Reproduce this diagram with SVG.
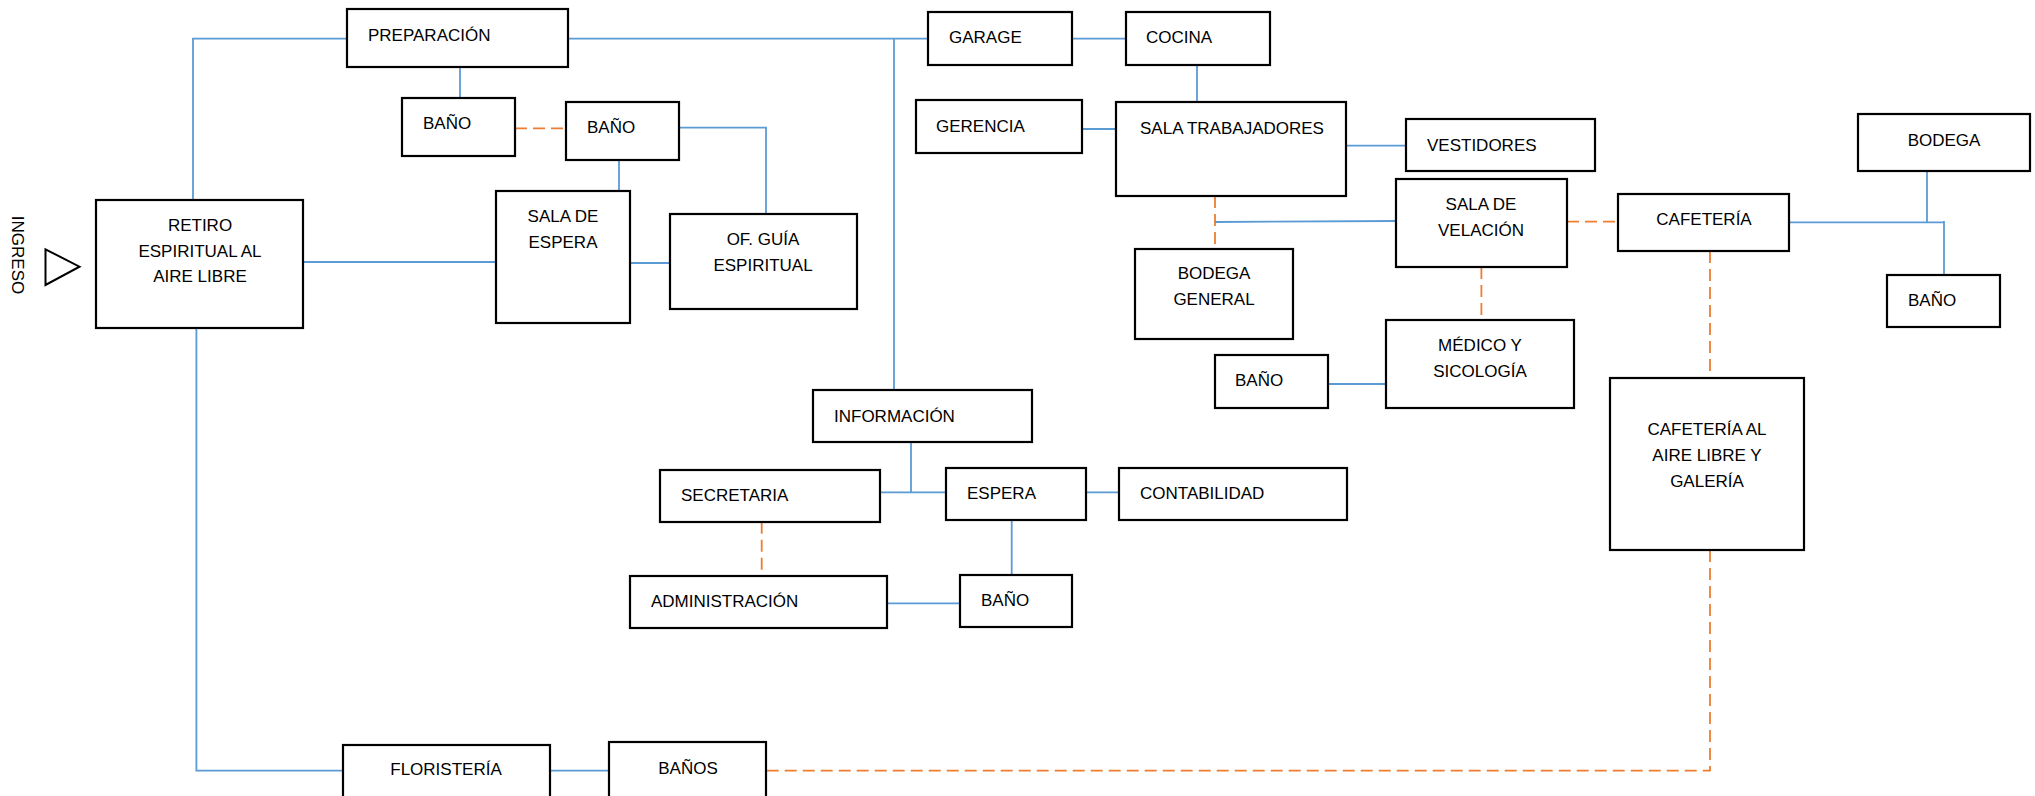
<svg xmlns="http://www.w3.org/2000/svg" width="2035" height="796" viewBox="0 0 2035 796">
<style>
.box{fill:#fff;stroke:#000;stroke-width:2.2}
.t{font-family:"Liberation Sans",Arial,sans-serif;font-size:17px;fill:#000}
.c{text-anchor:middle}
.bl{fill:none;stroke:#5B9BD5;stroke-width:1.8}
.or{fill:none;stroke:#ED7D31;stroke-width:1.8;stroke-dasharray:12 6}
</style>
<rect width="2035" height="796" fill="#fff"/>
<g id="connectors">
<polyline class="bl" points="347,38.7 193,38.7 193,200"/>
<polyline class="bl" points="568,38.7 928,38.7"/>
<polyline class="bl" points="894,38.7 894,390"/>
<polyline class="bl" points="1072,38.7 1126,38.7"/>
<polyline class="bl" points="1197,65 1197,102"/>
<polyline class="bl" points="460,67 460,98"/>
<polyline class="or" points="515,128.3 566,128.3"/>
<polyline class="bl" points="679,127.7 766,127.7 766,214"/>
<polyline class="bl" points="619,160 619,191"/>
<polyline class="bl" points="303,262 496,262"/>
<polyline class="bl" points="630,263 670,263"/>
<polyline class="bl" points="1082,129 1116,129"/>
<polyline class="bl" points="1346,145.7 1406,145.7"/>
<polyline class="or" points="1215,196 1215,249"/>
<polyline class="bl" points="1215,222 1396,221"/>
<polyline class="or" points="1567,221.7 1618,221.7"/>
<polyline class="bl" points="1789,222.3 1944,222.3"/>
<polyline class="bl" points="1927,171 1927,222.3"/>
<polyline class="bl" points="1944,221 1944,275"/>
<polyline class="or" points="1481.4,267 1481.4,320"/>
<polyline class="bl" points="1328,384 1386,384"/>
<polyline class="or" points="1710,251 1710,378"/>
<polyline class="or" points="1710,550 1710,770.7 766,770.7"/>
<polyline class="bl" points="196.4,328 196.4,770.7 343,770.7"/>
<polyline class="bl" points="550,770.7 609,770.7"/>
<polyline class="bl" points="911,442.7 911,492.3"/>
<polyline class="bl" points="880,492.3 946,492.3"/>
<polyline class="bl" points="1086,492.3 1119,492.3"/>
<polyline class="or" points="761.7,521.7 761.7,576"/>
<polyline class="bl" points="1011.7,520 1011.7,575"/>
<polyline class="bl" points="887,603.3 960,603.3"/>
</g>
<g id="ingreso">
<polygon points="45.5,249.3 79.5,266.7 45.5,285" fill="none" stroke="#000" stroke-width="2"/>
<text class="t c" transform="translate(12,255) rotate(90)">INGRESO</text>
</g>
<g id="preparacion"><rect class="box" x="347" y="9" width="221" height="58"/><text class="t" x="368" y="40.7">PREPARACIÓN</text></g>
<g id="bano1"><rect class="box" x="402" y="98" width="113" height="58"/><text class="t" x="423" y="129">BAÑO</text></g>
<g id="bano2"><rect class="box" x="566" y="102" width="113" height="58"/><text class="t" x="587" y="133">BAÑO</text></g>
<g id="retiro"><rect class="box" x="96" y="200" width="207" height="128"/><text class="t c" x="200" y="230.7">RETIRO</text><text class="t c" x="200" y="256.7">ESPIRITUAL AL</text><text class="t c" x="200" y="281.7">AIRE LIBRE</text></g>
<g id="sala-espera"><rect class="box" x="496" y="191" width="134" height="132"/><text class="t c" x="563" y="221.7">SALA DE</text><text class="t c" x="563" y="248.3">ESPERA</text></g>
<g id="of-guia"><rect class="box" x="670" y="214" width="187" height="95"/><text class="t c" x="763" y="245">OF. GUÍA</text><text class="t c" x="763" y="270.7">ESPIRITUAL</text></g>
<g id="garage"><rect class="box" x="928" y="12" width="144" height="53"/><text class="t" x="949" y="43.3">GARAGE</text></g>
<g id="cocina"><rect class="box" x="1126" y="12" width="144" height="53"/><text class="t" x="1146" y="43.3">COCINA</text></g>
<g id="gerencia"><rect class="box" x="916" y="100" width="166" height="53"/><text class="t" x="936" y="131.7">GERENCIA</text></g>
<g id="sala-trabajadores"><rect class="box" x="1116" y="102" width="230" height="94"/><text class="t" x="1140" y="134">SALA TRABAJADORES</text></g>
<g id="vestidores"><rect class="box" x="1406" y="119" width="189" height="52"/><text class="t" x="1427" y="150.7">VESTIDORES</text></g>
<g id="bodega-general"><rect class="box" x="1135" y="249" width="158" height="90"/><text class="t c" x="1214" y="279.3">BODEGA</text><text class="t c" x="1214" y="305">GENERAL</text></g>
<g id="sala-velacion"><rect class="box" x="1396" y="179" width="171" height="88"/><text class="t c" x="1481" y="210">SALA DE</text><text class="t c" x="1481" y="235.7">VELACIÓN</text></g>
<g id="cafeteria"><rect class="box" x="1618" y="194" width="171" height="57"/><text class="t c" x="1704" y="225">CAFETERÍA</text></g>
<g id="bodega"><rect class="box" x="1858" y="114" width="172" height="57"/><text class="t c" x="1944" y="145.7">BODEGA</text></g>
<g id="bano-der"><rect class="box" x="1887" y="275" width="113" height="52"/><text class="t" x="1908" y="305.7">BAÑO</text></g>
<g id="medico"><rect class="box" x="1386" y="320" width="188" height="88"/><text class="t c" x="1480" y="350.7">MÉDICO Y</text><text class="t c" x="1480" y="376.7">SICOLOGÍA</text></g>
<g id="bano-med"><rect class="box" x="1215" y="355" width="113" height="53"/><text class="t" x="1235" y="385.7">BAÑO</text></g>
<g id="cafeteria-aire"><rect class="box" x="1610" y="378" width="194" height="172"/><text class="t c" x="1707" y="435">CAFETERÍA AL</text><text class="t c" x="1707" y="461">AIRE LIBRE Y</text><text class="t c" x="1707" y="487.3">GALERÍA</text></g>
<g id="informacion"><rect class="box" x="813" y="390" width="219" height="52"/><text class="t" x="834" y="421.7">INFORMACIÓN</text></g>
<g id="secretaria"><rect class="box" x="660" y="470" width="220" height="52"/><text class="t" x="681" y="500.7">SECRETARIA</text></g>
<g id="espera"><rect class="box" x="946" y="468" width="140" height="52"/><text class="t" x="967" y="499">ESPERA</text></g>
<g id="contabilidad"><rect class="box" x="1119" y="468" width="228" height="52"/><text class="t" x="1140" y="499">CONTABILIDAD</text></g>
<g id="administracion"><rect class="box" x="630" y="576" width="257" height="52"/><text class="t" x="651" y="606.7">ADMINISTRACIÓN</text></g>
<g id="bano-adm"><rect class="box" x="960" y="575" width="112" height="52"/><text class="t" x="981" y="606">BAÑO</text></g>
<g id="floristeria"><rect class="box" x="343" y="745" width="207" height="60"/><text class="t c" x="446" y="775">FLORISTERÍA</text></g>
<g id="banos"><rect class="box" x="609" y="742" width="157" height="60"/><text class="t c" x="688" y="774.3">BAÑOS</text></g>
</svg>
